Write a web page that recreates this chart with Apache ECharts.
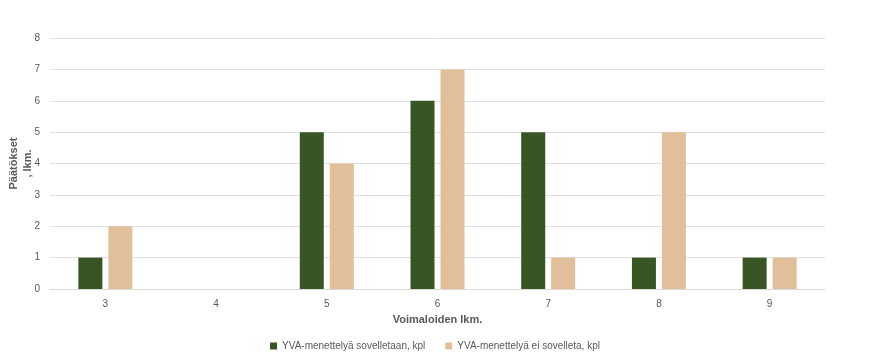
<!DOCTYPE html>
<html><head><meta charset="utf-8">
<script src="https://cdn.jsdelivr.net/npm/echarts@6/dist/echarts.min.js"></script>
<style>html,body{margin:0;padding:0;background:#fff}#c{width:870px;height:364px}</style>
</head><body><div id="c"></div>
<script>
const categories = ['3','4','5','6','7','8','9'];
const seriesA = [1,0,5,6,5,1,1];
const seriesB = [2,0,4,7,1,5,1];
const nameA = 'YVA-menettelyä sovelletaan, kpl';
const nameB = 'YVA-menettelyä ei sovelleta, kpl';
const chart = echarts.init(document.getElementById('c'));
const txt = '#595959';
chart.setOption({
  animation:false,
  textStyle:{fontFamily:'Liberation Sans, Arial, sans-serif'},
  grid:{left:50,right:45,top:38,bottom:75,containLabel:false,outerBoundsMode:'none'},
  legend:{bottom:8,left:'center',itemWidth:7,itemHeight:7,itemGap:20,icon:'rect',
    textStyle:{color:txt,fontSize:10},data:[nameA,nameB]},
  xAxis:{type:'category',data:categories,
    name:'Voimaloiden lkm.',nameLocation:'middle',nameGap:25,
    nameTextStyle:{color:txt,fontSize:11,fontWeight:'bold'},
    axisLine:{lineStyle:{color:'#d9d9d9',width:1}},axisTick:{show:false},
    axisLabel:{color:txt,fontSize:10,margin:10}},
  yAxis:{type:'value',min:0,max:8,interval:1,
    name:'Päätökset\n, lkm.',nameLocation:'middle',nameGap:15,nameRotate:90,nameMoveOverlap:false,
    nameTextStyle:{color:txt,fontSize:11,fontWeight:'bold',lineHeight:14},
    axisLine:{show:false},axisTick:{show:false},
    axisLabel:{color:txt,fontSize:10,margin:10},
    splitLine:{lineStyle:{color:'#e0e0e0',width:1}}},
  series:[
    {name:nameA,type:'bar',data:seriesA,barWidth:24,barGap:'25%',
     itemStyle:{color:'#375623'}},
    {name:nameB,type:'bar',data:seriesB,barWidth:24,barGap:'25%',
     itemStyle:{color:'#e0bf9a'}}
  ]
});
</script></body></html>
